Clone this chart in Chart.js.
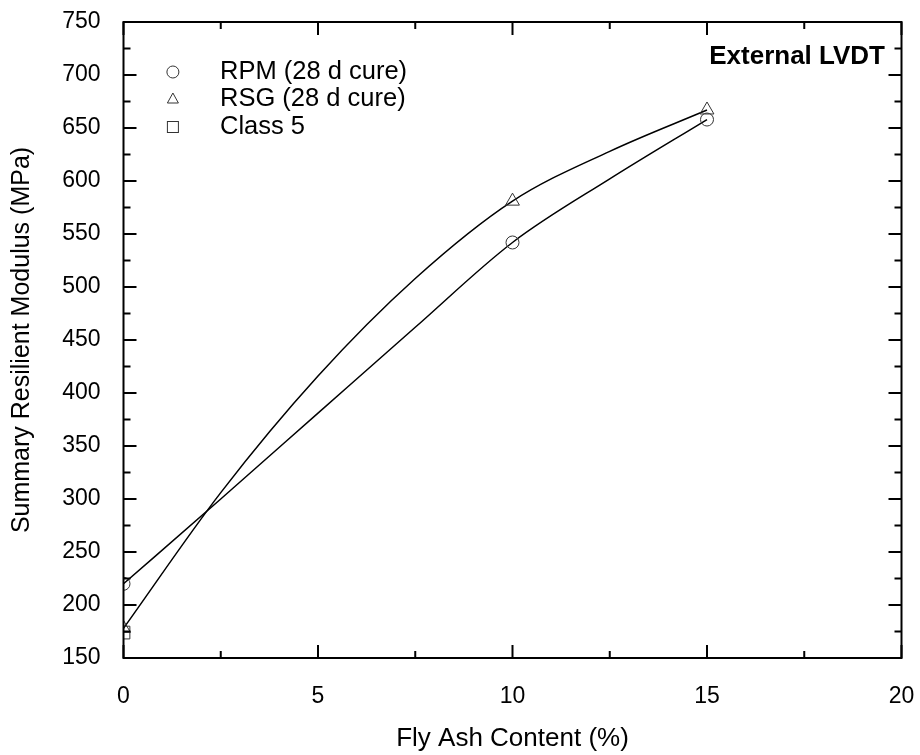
<!DOCTYPE html>
<html>
<head>
<meta charset="utf-8">
<script src="https://cdn.jsdelivr.net/npm/chart.js@4.4.1/dist/chart.umd.min.js"></script>
<style>
	html, body { margin: 0; padding: 0; background: #fff; }
	#wrap { width: 920px; height: 755px; position: relative; }
</style>
</head>
<body>
<div id="wrap"><canvas id="modulus-chart"></canvas></div>
<script>
// measured points
var rpmX = [0, 10, 15];
var rpmY = [220, 542, 658];
var rsgX = [0, 10, 15];
var rsgY = [178, 581, 667];
var class5X = [0];
var class5Y = [174];

// fitted curves
var rpmFitX = [0, 2.5, 5, 7.5, 10, 12.5, 15];
var rpmFitY = [220, 300, 381, 462, 542, 602, 658];
var rsgFitX = [0, 2.5, 5, 7.5, 10, 12.5, 15];
var rsgFitY = [178, 306, 416, 508, 581, 628, 667];

var legendLabels = ['RPM (28 d cure)', 'RSG (28 d cure)', 'Class 5'];
var xTitle = 'Fly Ash Content (%)';
var yTitle = 'Summary Resilient Modulus (MPa)';
var noteText = 'External LVDT';

var fontName = '"Liberation Sans", Arial, Helvetica, sans-serif';

function toPoints(xs, ys) {
	return xs.map(function(x, i) { return { x: x, y: ys[i] }; });
}

// inward major / minor ticks on all four sides + box
var frameTicks = {
	id: 'frameTicks',
	afterDraw: function(chart) {
		var ctx = chart.ctx;
		var a = chart.chartArea;
		var xs = chart.scales.x;
		var ys = chart.scales.y;
		ctx.save();
		ctx.strokeStyle = '#000';
		ctx.lineWidth = 2;
		ctx.beginPath();
		var v, p, len;
		for (v = 0; v <= 20; v += 2.5) {
			p = xs.getPixelForValue(v);
			len = (v % 5 === 0) ? 13 : 7;
			ctx.moveTo(p, a.bottom); ctx.lineTo(p, a.bottom - len);
			ctx.moveTo(p, a.top); ctx.lineTo(p, a.top + len);
		}
		for (v = 150; v <= 750; v += 25) {
			p = ys.getPixelForValue(v);
			len = (v % 50 === 0) ? 13 : 7;
			ctx.moveTo(a.left, p); ctx.lineTo(a.left + len, p);
			ctx.moveTo(a.right, p); ctx.lineTo(a.right - len, p);
		}
		ctx.stroke();
		ctx.strokeRect(a.left, a.top, a.right - a.left, a.bottom - a.top);

		// legend
		var lx = xs.getPixelForValue(1.27);
		var rows = [72, 99, 127];
		ctx.lineWidth = 1;
		ctx.strokeStyle = '#333';
		ctx.beginPath();
		ctx.arc(lx, rows[0], 6, 0, Math.PI * 2);
		ctx.stroke();
		ctx.beginPath();
		ctx.moveTo(lx, rows[1] - 6);
		ctx.lineTo(lx + 5.5, rows[1] + 4);
		ctx.lineTo(lx - 5.5, rows[1] + 4);
		ctx.closePath();
		ctx.stroke();
		ctx.strokeRect(lx - 5.5, rows[2] - 5.5, 11, 11);

		ctx.fillStyle = '#000';
		ctx.textBaseline = 'middle';
		ctx.textAlign = 'left';
		ctx.font = '25.5px ' + fontName;
		legendLabels.forEach(function(t, i) {
			ctx.fillText(t, 220, rows[i]);
		});
		ctx.font = 'bold 26px ' + fontName;
		ctx.textAlign = 'right';
		ctx.fillText(noteText, 885, 57);
		ctx.restore();
	}
};

var markerStyle = {
	showLine: false,
	backgroundColor: 'rgba(0,0,0,0)',
	borderColor: '#333',
	borderWidth: 1
};

new Chart(document.getElementById('modulus-chart'), {
	type: 'scatter',
	data: {
		datasets: [
			Object.assign({ label: legendLabels[0], data: toPoints(rpmX, rpmY), pointStyle: 'circle', pointRadius: 6.5 }, markerStyle),
			Object.assign({ label: legendLabels[1], data: toPoints(rsgX, rsgY), pointStyle: 'triangle', pointRadius: 8 }, markerStyle),
			Object.assign({ label: legendLabels[2], data: toPoints(class5X, class5Y), pointStyle: 'rect', pointRadius: 9 }, markerStyle),
			{
				label: 'RPM fit',
				data: toPoints(rpmFitX, rpmFitY),
				showLine: true,
				pointRadius: 0,
				borderColor: '#000',
				borderWidth: 1.5,
				cubicInterpolationMode: 'monotone'
			},
			{
				label: 'RSG fit',
				data: toPoints(rsgFitX, rsgFitY),
				showLine: true,
				pointRadius: 0,
				borderColor: '#000',
				borderWidth: 1.5,
				cubicInterpolationMode: 'monotone'
			}
		]
	},
	options: {
		responsive: true,
		maintainAspectRatio: false,
		animation: false,
		layout: { padding: { left: 0, right: 18.5, top: 22, bottom: 0 } },
		plugins: {
			legend: { display: false },
			tooltip: { enabled: false }
		},
		scales: {
			x: {
				type: 'linear',
				min: 0,
				max: 20,
				ticks: { stepSize: 5, padding: 25, color: '#000', font: { family: fontName, size: 23 } },
				grid: { display: false, drawTicks: false },
				border: { display: false },
				title: { display: true, text: xTitle, color: '#000', padding: { top: 0, bottom: 1 }, font: { family: fontName, size: 26 } },
				afterFit: function(scale) {
					scale.height = 97;
					scale.paddingLeft = 0;
					scale.paddingRight = 0;
				}
			},
			y: {
				type: 'linear',
				min: 150,
				max: 750,
				ticks: { stepSize: 50, padding: 23, color: '#000', font: { family: fontName, size: 23 } },
				grid: { display: false, drawTicks: false },
				border: { display: false },
				title: { display: true, text: yTitle, color: '#000', padding: { top: 7, bottom: 0 }, font: { family: fontName, size: 25 } },
				afterFit: function(scale) {
					scale.width = 123.5;
					scale.paddingTop = 0;
					scale.paddingBottom = 0;
				}
			}
		}
	},
	plugins: [frameTicks]
});
</script>
</body>
</html>
